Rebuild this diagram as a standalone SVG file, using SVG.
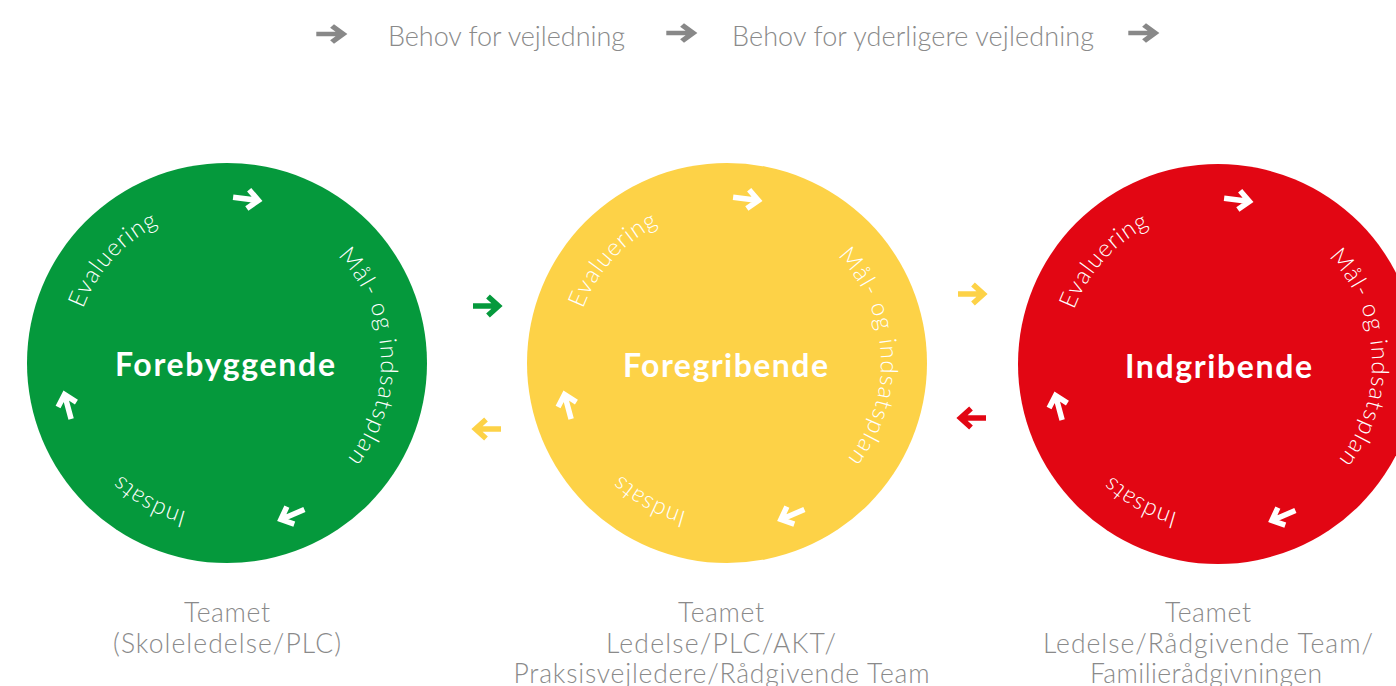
<svg xmlns="http://www.w3.org/2000/svg" xmlns:xlink="http://www.w3.org/1999/xlink" width="1396" height="686" viewBox="0 0 1396 686">
<style>
.hdr{font-family:Lato,"Open Sans","Liberation Sans",sans-serif;font-weight:300;font-size:27px;fill:#8a8a8a}
.team{font-family:Lato,"Open Sans","Liberation Sans",sans-serif;font-weight:300;font-size:26.5px;fill:#8a8a8a;text-anchor:middle}
.arc{font-family:Lato,"Open Sans","Liberation Sans",sans-serif;font-weight:300;font-size:24px;fill:#ffffff}
.title{font-family:Lato,"Open Sans","Liberation Sans",sans-serif;font-weight:700;font-size:32px;fill:#ffffff;text-anchor:middle}
.wa{stroke:#ffffff}
</style>
<defs>
<path id="ar" d="M-14,0 H10 M1,-9.5 L11.5,0 L1,9.5" fill="none" stroke-width="5.5" stroke-linejoin="miter"/>
<path id="p1" d="M73,363 A154,154 0 1 1 381,363 A154,154 0 1 1 73,363"/>
<path id="p2" d="M573,363 A154,154 0 1 1 881,363 A154,154 0 1 1 573,363"/>
<path id="p3" d="M1064,364 A154,154 0 1 1 1372,364 A154,154 0 1 1 1064,364"/>
</defs>

<g id="header">
<use xlink:href="#ar" transform="translate(331,34) scale(1.05,0.85)" stroke="#888888"/>
<text class="hdr" x="388" y="46" textLength="237">Behov for vejledning</text>
<use xlink:href="#ar" transform="translate(681,33) scale(1.05,0.85)" stroke="#888888"/>
<text class="hdr" x="732" y="46" textLength="362">Behov for yderligere vejledning</text>
<use xlink:href="#ar" transform="translate(1143,33) scale(1.05,0.85)" stroke="#888888"/>
</g>

<g id="forebyggende">
<circle cx="227" cy="363" r="200" fill="#05993c"/>
<text class="title" x="225" y="376" textLength="220">Forebyggende</text>
<text class="arc"><textPath xlink:href="#p1" startOffset="113" text-anchor="middle" textLength="115">Evaluering</textPath></text>
<text class="arc"><textPath xlink:href="#p1" startOffset="476" text-anchor="middle" textLength="222">Mål- og indsatsplan</textPath></text>
<text class="arc"><textPath xlink:href="#p1" startOffset="804" text-anchor="middle" textLength="76">Indsats</textPath></text>
<use xlink:href="#ar" class="wa" transform="translate(247,199) rotate(7)"/>
<use xlink:href="#ar" class="wa" transform="translate(291.5,515) rotate(157)"/>
<use xlink:href="#ar" class="wa" transform="translate(67.5,405.5) rotate(255)"/>
<text class="team" x="227" y="622" textLength="86">Teamet</text>
<text class="team" x="227" y="653" textLength="228">(Skoleledelse/PLC)</text>
</g>

<g id="foregribende">
<circle cx="727" cy="363" r="200" fill="#fdd247"/>
<text class="title" x="725.5" y="377" textLength="205">Foregribende</text>
<text class="arc"><textPath xlink:href="#p2" startOffset="113" text-anchor="middle" textLength="115">Evaluering</textPath></text>
<text class="arc"><textPath xlink:href="#p2" startOffset="476" text-anchor="middle" textLength="222">Mål- og indsatsplan</textPath></text>
<text class="arc"><textPath xlink:href="#p2" startOffset="804" text-anchor="middle" textLength="76">Indsats</textPath></text>
<use xlink:href="#ar" class="wa" transform="translate(747,199) rotate(7)"/>
<use xlink:href="#ar" class="wa" transform="translate(791.5,515) rotate(157)"/>
<use xlink:href="#ar" class="wa" transform="translate(567.5,405.5) rotate(255)"/>
<text class="team" x="721" y="622" textLength="86">Teamet</text>
<text class="team" x="721" y="653" textLength="230">Ledelse/PLC/AKT/</text>
<text class="team" x="721.5" y="683" textLength="416">Praksisvejledere/Rådgivende Team</text>
</g>

<g id="indgribende">
<circle cx="1218" cy="364" r="200" fill="#e20613"/>
<text class="title" x="1218.5" y="378" textLength="187">Indgribende</text>
<text class="arc"><textPath xlink:href="#p3" startOffset="113" text-anchor="middle" textLength="115">Evaluering</textPath></text>
<text class="arc"><textPath xlink:href="#p3" startOffset="476" text-anchor="middle" textLength="222">Mål- og indsatsplan</textPath></text>
<text class="arc"><textPath xlink:href="#p3" startOffset="804" text-anchor="middle" textLength="76">Indsats</textPath></text>
<use xlink:href="#ar" class="wa" transform="translate(1238,200) rotate(7)"/>
<use xlink:href="#ar" class="wa" transform="translate(1282.5,516) rotate(157)"/>
<use xlink:href="#ar" class="wa" transform="translate(1058.5,406.5) rotate(255)"/>
<text class="team" x="1208" y="622" textLength="86">Teamet</text>
<text class="team" x="1208" y="653" textLength="330">Ledelse/Rådgivende Team/</text>
<text class="team" x="1206" y="683" textLength="232">Familierådgivningen</text>
</g>

<g id="connectors">
<use xlink:href="#ar" transform="translate(487,306)" stroke="#05993c"/>
<use xlink:href="#ar" transform="translate(487,429) rotate(180)" stroke="#fdd247"/>
<use xlink:href="#ar" transform="translate(972,294)" stroke="#fdd247"/>
<use xlink:href="#ar" transform="translate(972,418) rotate(180)" stroke="#e20613"/>
</g>
</svg>
